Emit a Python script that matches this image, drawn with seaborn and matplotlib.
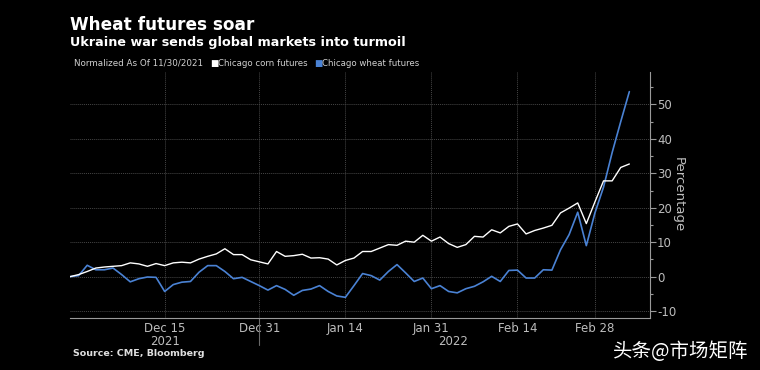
import numpy as np
import pandas as pd
import matplotlib.pyplot as plt
import matplotlib.ticker as mticker
import seaborn as sns

### data (percent change, normalized at 11/30/2021), one value per CME trading day
holidays = ['2021-12-24', '2022-01-17', '2022-02-21']
corn = [0.0, 0.6, 1.5, 2.5, 2.8, 3.0, 3.2, 4.0, 3.7, 3.0,
        3.8, 3.2, 4.0, 4.2, 4.0, 5.1, 5.9, 6.6, 8.1, 6.4,
        6.4, 4.9, 4.3, 3.7, 7.3, 5.9, 6.1, 6.5, 5.4, 5.5,
        5.1, 3.4, 4.7, 5.4, 7.3, 7.3, 8.3, 9.3, 9.1, 10.3,
        10.0, 12.0, 10.3, 11.5, 9.6, 8.5, 9.3, 11.7, 11.5, 13.6,
        12.7, 14.6, 15.3, 12.4, 13.4, 14.1, 14.9, 18.5, 19.9, 21.4,
        15.4, 21.7, 27.8, 27.8, 31.7, 32.7]
wheat = [0.0, 0.3, 3.3, 2.0, 2.0, 2.5, 0.6, -1.5, -0.6, -0.1,
         -0.2, -4.3, -2.3, -1.6, -1.4, 1.3, 3.2, 3.2, 1.5, -0.6,
         -0.2, -1.4, -2.6, -3.9, -2.6, -3.7, -5.4, -4.0, -3.6, -2.6,
         -4.3, -5.6, -6.0, -2.6, 0.9, 0.3, -1.0, 1.5, 3.5, 1.1,
         -1.4, -0.4, -3.5, -2.6, -4.3, -4.7, -3.5, -2.8, -1.5, 0.1,
         -1.4, 1.8, 1.9, -0.4, -0.4, 2.0, 1.9, 7.8, 12.2, 18.7,
         9.0, 18.5, 26.0, 36.0, 45.0, 53.7]
major_dates = ['2021-12-15', '2021-12-31', '2022-01-14', '2022-01-31', '2022-02-14', '2022-02-28']
major_labels = ['Dec 15', 'Dec 31', 'Jan 14', 'Jan 31', 'Feb 14', 'Feb 28']
minor_dates = ['2021-11-30', '2021-12-08', '2021-12-23', '2022-01-07', '2022-01-24',
               '2022-02-07', '2022-02-22', '2022-03-07']

### trading-day axis (Bloomberg style: no gaps for weekends/holidays)
days = pd.bdate_range('2021-11-30', '2022-03-07')
days = days[~days.isin(pd.to_datetime(holidays))]
pos = pd.Series(np.arange(len(days)), index=days)

df = pd.DataFrame({'t': pos.values[:len(corn)], 'corn': corn, 'wheat': wheat})

### style
sns.set_theme(style='dark', rc={'axes.facecolor': 'black', 'figure.facecolor': 'black'})
plt.rcParams['font.family'] = ['DejaVu Sans', 'Noto Sans CJK SC']

fig = plt.figure(figsize=(7.6, 3.7), dpi=100)
ax = fig.add_axes([70/760, 1-318/370, 580/760, 246/370])

blue = '#4a82d4'
sns.lineplot(data=df, x='t', y='wheat', ax=ax, color=blue, lw=1.2)
sns.lineplot(data=df, x='t', y='corn', ax=ax, color='white', lw=1.0)

ax.set_xlim(0, 67.4)
ax.set_ylim(-12, 59.4)
ax.set_xlabel('')
ax.set_ylabel('')

### axes / ticks
grey = '#bdbdbd'
for s in ['top', 'left']:
    ax.spines[s].set_visible(False)
for s in ['bottom', 'right']:
    ax.spines[s].set_color('#9a9a9a')
    ax.spines[s].set_linewidth(0.8)

ax.yaxis.tick_right()
ax.yaxis.set_label_position('right')
ax.yaxis.set_minor_locator(mticker.MultipleLocator(5))
ax.set_yticks(np.arange(-10, 51, 10))
ax.set_yticklabels([str(v) for v in range(-10, 51, 10)])
ax.set_xticks([pos[pd.Timestamp(d)] for d in major_dates])
ax.set_xticklabels(major_labels)
ax.set_xticks([pos[pd.Timestamp(d)] for d in minor_dates], minor=True)

ax.tick_params(axis='both', which='both', colors='#9a9a9a', labelcolor=grey,
               labelsize=8.5, direction='out')
ax.tick_params(axis='x', which='major', length=3, width=0.8, pad=0)
ax.tick_params(axis='x', which='minor', length=3, width=0.8)
ax.tick_params(axis='y', which='major', length=4, width=0.8, pad=1, right=True, left=False)
ax.tick_params(axis='y', which='minor', length=2, width=0.8, right=True, left=False)
ax.set_ylabel('Percentage', color=grey, fontsize=9.5, rotation=-90, labelpad=6)

ax.grid(True, which='major', color='#464646', lw=0.7, ls=(0, (1, 1)))
ax.grid(False, which='minor')

# year labels and year separator below Dec 31
xt = ax.get_xaxis_transform()
ax.text(pos[pd.Timestamp('2021-12-15')], -0.068, '2021', transform=xt,
        ha='center', va='top', color=grey, fontsize=8.5)
ax.text(pos[pd.Timestamp('2022-02-03')] - 0.5, -0.068, '2022', transform=xt,
        ha='center', va='top', color=grey, fontsize=8.5)
ax.plot([pos[pd.Timestamp('2021-12-31')]] * 2, [0, -0.11], transform=xt,
        color='#6a6a6a', lw=0.8, clip_on=False)

### titles, legend row, source
fig.text(70/760, 1-30/370, 'Wheat futures soar', color='white', fontsize=12.2,
         fontweight='bold', va='baseline')
fig.text(70/760, 1-46/370, 'Ukraine war sends global markets into turmoil', color='white',
         fontsize=9.2, fontweight='bold', va='baseline')
fig.text(74/760, 1-66/370, 'Normalized As Of 11/30/2021', color='#d0d0d0', fontsize=6.3, va='baseline')
fig.text(210/760, 1-66/370, '\u25A0', color='white', fontsize=6.3, va='baseline')
fig.text(218/760, 1-66/370, 'Chicago corn futures', color='#d0d0d0', fontsize=6.2, va='baseline')
fig.text(314/760, 1-66/370, '\u25A0', color=blue, fontsize=6.3, va='baseline')
fig.text(322/760, 1-66/370, 'Chicago wheat futures', color='#d0d0d0', fontsize=6.2, va='baseline')
fig.text(73/760, 1-356/370, 'Source: CME, Bloomberg', color='#e0e0e0', fontsize=6.8,
         fontweight='bold', va='baseline')
fig.text(748/760, 1-357/370, '头条@市场矩阵', color='white', fontsize=14, ha='right',
         va='baseline', family=['Noto Sans CJK SC', 'DejaVu Sans'])

plt.savefig('out.png', dpi=100, facecolor='black')
